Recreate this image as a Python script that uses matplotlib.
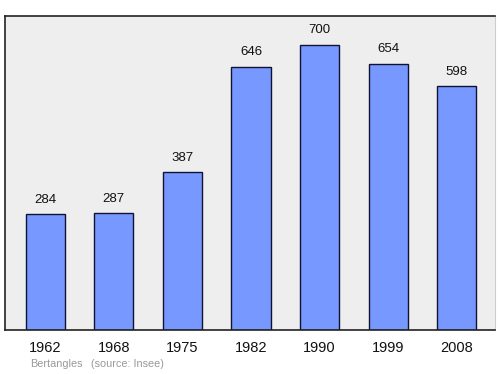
import matplotlib
matplotlib.use("Agg")
import matplotlib.pyplot as plt

years = ["1962", "1968", "1975", "1982", "1990", "1999", "2008"]
population = [284, 287, 387, 646, 700, 654, 598]
commune = "Bertangles"
source = "(source: Insee)"

plt.rcParams["font.family"] = ["Liberation Sans", "DejaVu Sans"]

fig = plt.figure(figsize=(5, 3.74), dpi=100)
ax = fig.add_axes([0.01, 0.1176, 0.98, 0.8396])
ax.set_facecolor("#eeeeee")

x = range(len(years))
bars = ax.bar(x, population, width=0.57, color="#7799ff",
              edgecolor="#111133", linewidth=1.0, zorder=2)

for xi, v in zip(x, population):
    ax.annotate(str(v), (xi, v), xytext=(0, 10.5), textcoords="offset points",
                ha="center", va="center", fontsize=9.5, color="#111111")

ax.set_xlim(-0.585, 6.555)
ax.set_ylim(0, 771)
ax.set_yticks([])
ax.set_xticks(list(x))
ax.set_xticklabels(years, fontsize=10.5, color="#111111")
ax.tick_params(axis="x", length=0, pad=8)

for side in ("left", "top", "bottom"):
    ax.spines[side].set_color("#222222")
    ax.spines[side].set_linewidth(1.2)
ax.spines["right"].set_color("#cccccc")
ax.spines["right"].set_linewidth(0.8)

fig.text(0.06, 0.027, commune, fontsize=7.8, color="#999999", va="center")
fig.text(0.182, 0.027, source, fontsize=7.8, color="#999999", va="center")

fig.savefig("out.png", dpi=100)
